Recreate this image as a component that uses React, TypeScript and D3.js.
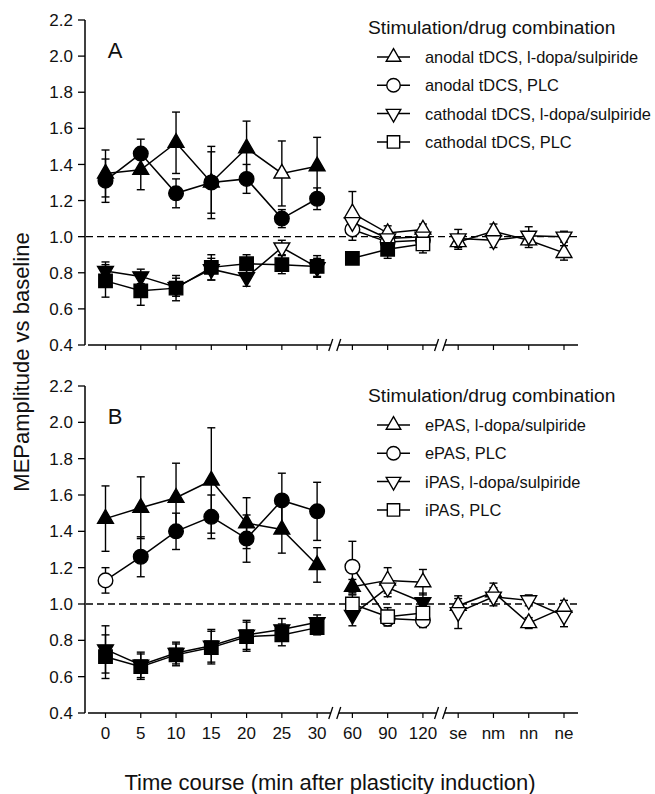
import * as d3 from "d3";

const timeLabels = ["0", "5", "10", "15", "20", "25", "30", "60", "90", "120", "se", "nm", "nn", "ne"];
const yTicks = [0.4, 0.6, 0.8, 1.0, 1.2, 1.4, 1.6, 1.8, 2.0, 2.2];
// point groups that are joined by lines (axis is broken between them)
const segments = [[0, 6], [7, 9], [10, 13]];

// Panel A
const legendA = ["anodal tDCS, l-dopa/sulpiride", "anodal tDCS, PLC", "cathodal tDCS, l-dopa/sulpiride", "cathodal tDCS, PLC"];
const aAnodalDrug = [1.35, 1.37, 1.52, 1.30, 1.49, 1.35, 1.39, 1.13, 1.02, 1.04, 0.97, 1.03, 0.98, 0.91];
const aAnodalDrugErr = [0.13, 0.11, 0.17, 0.20, 0.15, 0.18, 0.16, 0.12, 0.04, 0.03, 0.04, 0.04, 0.04, 0.04];
const aAnodalDrugFill = [1, 1, 1, 1, 1, 0, 1, 0, 0, 0, 0, 0, 0, 0];
const aAnodalPlc = [1.31, 1.46, 1.24, 1.30, 1.32, 1.10, 1.21, 1.04, 0.97, 0.98, null, null, null, null];
const aAnodalPlcErr = [0.12, 0.08, 0.08, 0.17, 0.08, 0.05, 0.06, 0.06, 0.04, 0.04, 0, 0, 0, 0];
const aAnodalPlcFill = [1, 1, 1, 1, 1, 1, 1, 0, 0, 0, 0, 0, 0, 0];
const aCathodalDrug = [0.81, 0.78, 0.72, 0.82, 0.775, 0.94, 0.83, 1.08, 0.99, 1.0, 0.99, 0.98, 1.005, 1.0];
const aCathodalDrugErr = [0.05, 0.04, 0.05, 0.06, 0.05, 0.04, 0.05, 0.05, 0.04, 0.04, 0.05, 0.04, 0.05, 0.03];
const aCathodalDrugFill = [1, 1, 1, 1, 1, 0, 1, 0, 0, 0, 0, 0, 0, 0];
const aCathodalPlc = [0.755, 0.70, 0.715, 0.83, 0.85, 0.845, 0.835, 0.88, 0.93, 0.96, null, null, null, null];
const aCathodalPlcErr = [0.09, 0.08, 0.07, 0.07, 0.05, 0.05, 0.06, 0.03, 0.05, 0.05, 0, 0, 0, 0];
const aCathodalPlcFill = [1, 1, 1, 1, 1, 1, 1, 1, 1, 0, 0, 0, 0, 0];

// Panel B
const legendB = ["ePAS, l-dopa/sulpiride", "ePAS, PLC", "iPAS, l-dopa/sulpiride", "iPAS, PLC"];
const bEpasDrug = [1.47, 1.53, 1.585, 1.68, 1.445, 1.41, 1.215, 1.095, 1.13, 1.12, 0.99, 1.065, 0.895, 0.98];
const bEpasDrugErr = [0.18, 0.17, 0.19, 0.29, 0.14, 0.13, 0.095, 0.04, 0.07, 0.07, 0.04, 0.05, 0.03, 0.04];
const bEpasDrugFill = [1, 1, 1, 1, 1, 1, 1, 1, 0, 0, 0, 0, 0, 0];
const bEpasPlc = [1.13, 1.26, 1.40, 1.48, 1.36, 1.57, 1.51, 1.205, 0.92, 0.91, null, null, null, null];
const bEpasPlcErr = [0.07, 0.11, 0.10, 0.12, 0.13, 0.15, 0.16, 0.14, 0.04, 0.04, 0, 0, 0, 0];
const bEpasPlcFill = [0, 1, 1, 1, 1, 1, 1, 0, 0, 0, 0, 0, 0, 0];
const bIpasDrug = [0.75, 0.665, 0.73, 0.77, 0.83, 0.86, 0.90, 0.94, 1.09, 1.01, 0.955, 1.04, 1.02, 0.935];
const bIpasDrugErr = [0.13, 0.07, 0.06, 0.09, 0.08, 0.06, 0.04, 0.06, 0.05, 0.05, 0.09, 0.05, 0.03, 0.06];
const bIpasDrugFill = [1, 1, 1, 1, 1, 1, 1, 1, 0, 1, 0, 0, 0, 0];
const bIpasPlc = [0.71, 0.655, 0.72, 0.76, 0.82, 0.83, 0.87, 1.0, 0.93, 0.95, null, null, null, null];
const bIpasPlcErr = [0.12, 0.07, 0.06, 0.09, 0.08, 0.06, 0.04, 0.05, 0.05, 0.05, 0, 0, 0, 0];
const bIpasPlcFill = [1, 1, 1, 1, 1, 1, 1, 0, 0, 0, 0, 0, 0, 0];

const shapes = ["tri", "circle", "invtri", "square"];

const W = 655;
const H = 794;
const font = "'Liberation Sans', Arial, sans-serif";
const axisX = 85;
const axisEnd = 578;

const x = d3.scalePoint<string>().domain(timeLabels).range([105.5, 564]);

const symbolPath = (shape: string, scale = 1) => {
  if (shape === "circle") return d3.symbol().type(d3.symbolCircle).size(168 * scale)()!;
  if (shape === "square") return d3.symbol().type(d3.symbolSquare).size(180 * scale)()!;
  return d3.symbol().type(d3.symbolTriangle).size(108 * scale)()!;
};

const Marker = ({ shape, cx, cy, filled, scale = 1 }) => (
  <path
    d={symbolPath(shape, scale)}
    transform={`translate(${cx},${cy})${shape === "invtri" ? " rotate(180)" : ""}`}
    fill={filled ? "#000" : "#fff"}
    stroke="#000"
    strokeWidth={1.4}
  />
);

const makeSeries = (vals, errs, fills) =>
  vals.map((v, i) => ({ label: timeLabels[i], i, v, e: errs[i], f: fills[i] }));

const panels = [
  {
    name: "A", top: 20, bottom: 345, legendTop: 57, legend: legendA, showLabels: false,
    series: [
      makeSeries(aAnodalDrug, aAnodalDrugErr, aAnodalDrugFill),
      makeSeries(aAnodalPlc, aAnodalPlcErr, aAnodalPlcFill),
      makeSeries(aCathodalDrug, aCathodalDrugErr, aCathodalDrugFill),
      makeSeries(aCathodalPlc, aCathodalPlcErr, aCathodalPlcFill),
    ],
  },
  {
    name: "B", top: 386, bottom: 713, legendTop: 425, legend: legendB, showLabels: true,
    series: [
      makeSeries(bEpasDrug, bEpasDrugErr, bEpasDrugFill),
      makeSeries(bEpasPlc, bEpasPlcErr, bEpasPlcFill),
      makeSeries(bIpasDrug, bIpasDrugErr, bIpasDrugFill),
      makeSeries(bIpasPlc, bIpasPlcErr, bIpasPlcFill),
    ],
  },
];

const breaks = [
  (x(timeLabels[6])! + x(timeLabels[7])!) / 2,
  (x(timeLabels[9])! + x(timeLabels[10])!) / 2,
];

const Panel = ({ p }) => {
  const y = d3.scaleLinear().domain([0.4, 2.2]).range([p.bottom, p.top]);
  const line = d3.line<any>()
    .defined(d => d.v != null)
    .x(d => x(d.label)!)
    .y(d => y(d.v));

  const axisSegs = [
    [axisX + 3, breaks[0] - 4],
    [breaks[0] + 4, breaks[1] - 4],
    [breaks[1] + 4, axisEnd],
  ];

  return (
    <g>
      {/* y axis */}
      <line x1={axisX} x2={axisX} y1={y(2.2)} y2={y(0.4)} stroke="#000" strokeWidth={1.5} />
      {yTicks.map(t => (
        <g key={t} transform={`translate(0,${y(t)})`}>
          <line x1={axisX - 7} x2={axisX} stroke="#000" strokeWidth={1.3} />
          <text x={axisX - 12} dy="0.36em" textAnchor="end" fontSize={17} fill="#111" fontFamily={font}>
            {d3.format(".1f")(t)}
          </text>
        </g>
      ))}

      {/* broken x axis */}
      {axisSegs.map(([a, b], k) => (
        <line key={k} x1={a} x2={b} y1={p.bottom} y2={p.bottom} stroke="#000" strokeWidth={1.5} />
      ))}
      {breaks.map(b => [b - 4, b + 4].map(bx => (
        <line key={bx} x1={bx - 2} x2={bx + 2} y1={p.bottom + 6} y2={p.bottom - 6} stroke="#000" strokeWidth={1.3} />
      )))}
      {timeLabels.map(l => (
        <g key={l} transform={`translate(${x(l)},${p.bottom})`}>
          <line y2={5} stroke="#000" strokeWidth={1.2} />
          {p.showLabels && (
            <text y={26} textAnchor="middle" fontSize={17} fill="#111" fontFamily={font}>{l}</text>
          )}
        </g>
      ))}

      {/* reference line */}
      <line x1={axisX + 1} x2={axisEnd} y1={y(1)} y2={y(1)} stroke="#000" strokeWidth={1.3} strokeDasharray="7,4" />

      {/* lines */}
      {p.series.map((s, k) => segments.map(([a, b], j) => (
        <path key={`${k}-${j}`} d={line(s.slice(a, b + 1)) || ""} fill="none" stroke="#000" strokeWidth={1.5} />
      )))}

      {/* error bars */}
      {p.series.map((s, k) => s.filter(d => d.v != null).map(d => {
        const cx = x(d.label)!;
        return (
          <g key={`${k}-${d.i}`} stroke="#000" strokeWidth={1.4}>
            <line x1={cx} x2={cx} y1={y(d.v + d.e)} y2={y(d.v - d.e)} />
            <line x1={cx - 4} x2={cx + 4} y1={y(d.v + d.e)} y2={y(d.v + d.e)} />
            <line x1={cx - 4} x2={cx + 4} y1={y(d.v - d.e)} y2={y(d.v - d.e)} />
          </g>
        );
      }))}

      {/* markers */}
      {p.series.map((s, k) => s.filter(d => d.v != null).map(d => (
        <Marker key={`${k}-${d.i}`} shape={shapes[k]} cx={x(d.label)} cy={y(d.v)} filled={d.f === 1} />
      )))}

      {/* panel letter */}
      <text x={115} y={p.top + 30} dy="0.36em" textAnchor="middle" fontSize={22} fontFamily={font} fill="#111">{p.name}</text>

      {/* legend */}
      <text x={368} y={p.legendTop - 30} dy="0.36em" fontSize={19.2} fontFamily={font} fill="#111">
        Stimulation/drug combination
      </text>
      {p.legend.map((l, k) => {
        const ly = p.legendTop + k * 28.3;
        return (
          <g key={l}>
            <line x1={377} x2={410} y1={ly} y2={ly} stroke="#000" strokeWidth={1.5} />
            <Marker shape={shapes[k]} cx={393.5} cy={ly} filled={false} scale={0.85} />
            <text x={425} y={ly} dy="0.36em" fontSize={16.4} fontFamily={font} fill="#111">{l}</text>
          </g>
        );
      })}
    </g>
  );
};

export default function App() {
  return (
    <svg
      width={W}
      height={H}
      viewBox={`0 0 ${W} ${H}`}
      style={{ position: "absolute", left: 0, top: 0, background: "#fff" }}
    >
      <rect width={W} height={H} fill="#fff" />
      {panels.map(p => <Panel key={p.name} p={p} />)}
      <text
        transform={`translate(29,${362}) rotate(-90)`}
        textAnchor="middle"
        fontSize={22}
        fontFamily={font}
        fill="#111"
      >
        MEPamplitude vs baseline
      </text>
      <text x={330} y={790} textAnchor="middle" fontSize={22} fontFamily={font} fill="#111">
        Time course (min after plasticity induction)
      </text>
    </svg>
  );
}
